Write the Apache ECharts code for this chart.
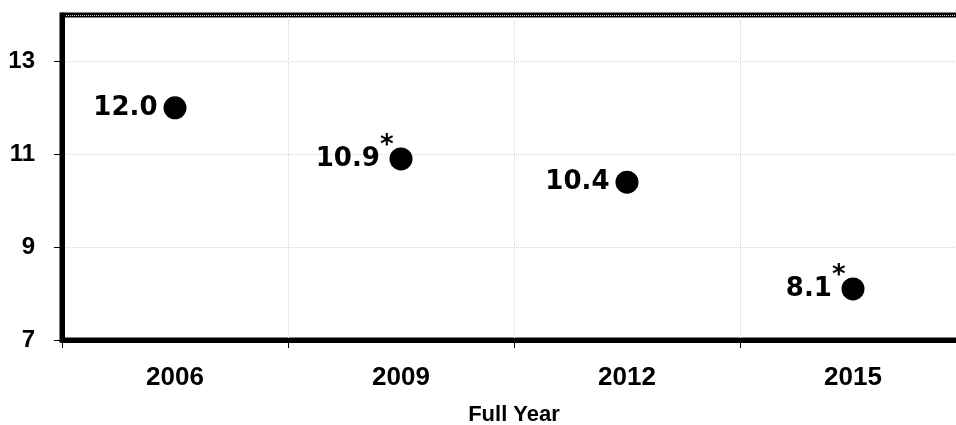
<!DOCTYPE html>
<html>
<head>
<meta charset="utf-8">
<script src="https://cdn.jsdelivr.net/npm/echarts@6/dist/echarts.min.js"></script>
<style>html,body{margin:0;padding:0;background:#fff;}#c{width:956px;height:425px;}</style>
</head>
<body>
<div id="c"></div>
<script>
var categories = ['2006', '2009', '2012', '2015'];
var values = [12.0, 10.9, 10.4, 8.1];
var starred = [false, true, false, true];
var yTicks = [7, 9, 11, 13];
var xAxisName = 'Full Year';

var chart = echarts.init(document.getElementById('c'));
var data = values.map(function (v, i) {
  return {
    value: v,
    label: {
      distance: starred[i] ? -4 : 6,
      formatter: starred[i] ? '{v|' + v.toFixed(1) + '}{s|*}' : '{v|' + v.toFixed(1) + '}'
    }
  };
});
chart.setOption({
  animation: false,
  grid: {
    left: 62, width: 904, top: 15, bottom: 85,
    outerBoundsMode: 'none',
    containLabel: false,
    show: true, borderColor: '#000', borderWidth: 5, backgroundColor: 'transparent'
  },
  xAxis: {
    type: 'category',
    data: categories,
    name: xAxisName,
    nameLocation: 'middle',
    nameGap: 64,
    nameTextStyle: { fontFamily: 'Liberation Sans', fontWeight: 'bold', fontSize: 22, color: '#000' },
    axisLine: { lineStyle: { color: '#000', width: 5 } },
    axisTick: { show: true, length: 8, lineStyle: { color: '#000', width: 1 } },
    axisLabel: { margin: 25, fontFamily: 'Liberation Sans', fontWeight: 'bold', fontSize: 26, color: '#000' },
    splitLine: { show: true, lineStyle: { color: '#d4d4d4', type: 'dotted', width: 1 } }
  },
  yAxis: {
    type: 'value',
    min: yTicks[0],
    max: 14,
    interval: yTicks[1] - yTicks[0],
    axisLine: { show: true, lineStyle: { color: '#000', width: 5 } },
    axisTick: { show: true, length: 8, lineStyle: { color: '#000', width: 1 } },
    axisLabel: {
      margin: 27, fontFamily: 'Liberation Sans', fontWeight: 'bold', fontSize: 24, color: '#000',
      showMaxLabel: false,
      formatter: function (v) { return yTicks.indexOf(v) >= 0 ? String(v) : ''; }
    },
    splitLine: { show: true, lineStyle: { color: '#d4d4d4', type: 'dotted', width: 1 } }
  },
  series: [{
    type: 'scatter',
    data: data,
    symbol: 'circle',
    symbolSize: 23,
    itemStyle: { color: '#000', opacity: 1 },
    label: {
      show: true,
      position: 'left',
      color: '#000',
      opacity: 1,
      rich: {
        v: { fontFamily: 'DejaVu Sans', fontWeight: 'bold', fontSize: 26, color: '#000' },
        s: { fontFamily: 'DejaVu Sans', fontWeight: 'bold', fontSize: 26, color: '#000', padding: [0, 0, 26, 0] }
      }
    }
  }]
});
</script>
</body>
</html>
